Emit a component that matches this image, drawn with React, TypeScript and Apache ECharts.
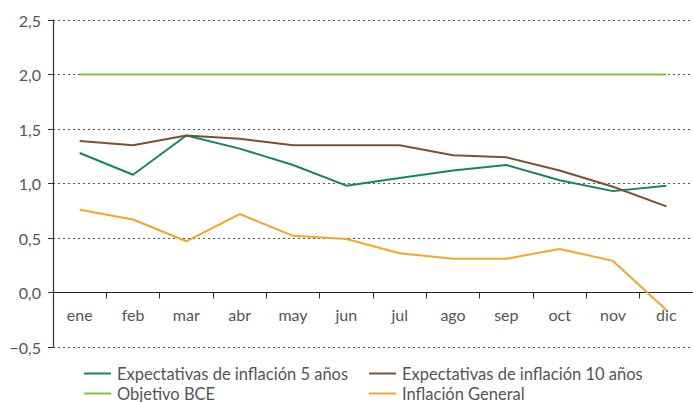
import React, { useEffect, useRef } from "react";
import * as echarts from "echarts";

const months = ["ene", "feb", "mar", "abr", "may", "jun", "jul", "ago", "sep", "oct", "nov", "dic"];
const exp5 = [1.28, 1.08, 1.44, 1.32, 1.17, 0.98, 1.05, 1.12, 1.17, 1.03, 0.93, 0.98];
const exp10 = [1.39, 1.35, 1.44, 1.41, 1.35, 1.35, 1.35, 1.26, 1.24, 1.12, 0.97, 0.79];
const objetivo = [2.0, 2.0, 2.0, 2.0, 2.0, 2.0, 2.0, 2.0, 2.0, 2.0, 2.0, 2.0];
const inflacion = [0.76, 0.67, 0.47, 0.72, 0.52, 0.49, 0.36, 0.31, 0.31, 0.4, 0.29, -0.16];

const names = [
  "Expectativas de inflación 5 años",
  "Expectativas de inflación 10 años",
  "Objetivo BCE",
  "Inflación General",
];
const colors = ["#13875f", "#7a5230", "#7cc242", "#f5a52a"];

const FONT = "Lato, 'Open Sans', sans-serif";

export default function App() {
  const ref = useRef<HTMLDivElement>(null);
  useEffect(() => {
    if (!ref.current) return;
    const chart = echarts.init(ref.current, null, { renderer: "svg" });
    const mk = (i: number, data: number[]) => ({
      name: names[i],
      type: "line",
      data,
      showSymbol: false,
      symbol: "none",
      lineStyle: { color: colors[i], width: 2 },
      itemStyle: { color: colors[i] },
      z: i === 2 ? 1 : 2,
    });
    const legendPos = [
      [84, 365],
      [369, 365],
      [84, 385],
      [369, 385],
    ];
    const legends = names.map((n, i) => ({
      orient: "horizontal",
      left: legendPos[i][0],
      top: legendPos[i][1],
      padding: 0,
      itemWidth: 27,
      itemHeight: 2,
      itemGap: 0,
      icon: "rect",
      textStyle: { fontFamily: FONT, fontSize: 16.5, lineHeight: 16, color: "#555", padding: [0, 0, 0, 1] },
      data: [n],
    }));
    const grid = { left: 53, right: -3, top: 20, bottom: 55 };
    const gridH = 402 - grid.top - grid.bottom;
    const zeroOffset = -(gridH * (0.5 / 3));
    chart.setOption({
      animation: false,
      textStyle: { fontFamily: FONT },
      grid: { ...grid, containLabel: false },
      legend: legends,
      xAxis: {
        type: "category",
        data: months,
        boundaryGap: true,
        position: "bottom",
        offset: zeroOffset,
        axisLine: { onZero: false, lineStyle: { color: "#222", width: 1.2 } },
        axisTick: { show: true, length: 6, lineStyle: { color: "#333" } },
        axisLabel: { fontFamily: FONT, fontSize: 16, color: "#555", margin: 14 },
      },
      yAxis: {
        type: "value",
        min: -0.5,
        max: 2.5,
        interval: 0.5,
        axisLine: { show: true, lineStyle: { color: "#333", width: 1.2 } },
        axisTick: { show: true, length: 5, lineStyle: { color: "#333" } },
        splitLine: { show: true, lineStyle: { color: "#555", type: [2, 3], width: 1 } },
        axisLabel: {
          fontFamily: FONT,
          fontSize: 16,
          color: "#555",
          margin: 12,
          formatter: (v: number) => v.toFixed(1).replace(".", ",").replace("-", "\u2212"),
        },
      },
      series: [mk(2, objetivo), mk(0, exp5), mk(1, exp10), mk(3, inflacion)],
    });
    return () => chart.dispose();
  }, []);
  return <div ref={ref} style={{ width: 693, height: 402, position: "absolute", left: 0, top: 0 }} />;
}
